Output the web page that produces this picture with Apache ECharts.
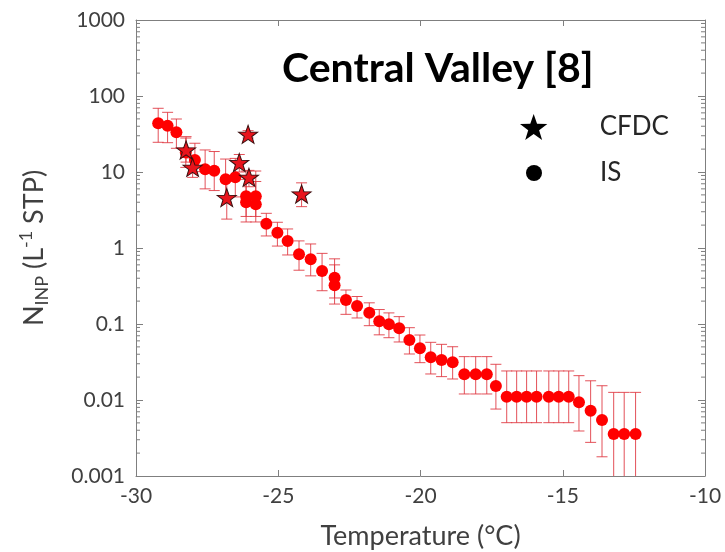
<!DOCTYPE html>
<html>
<head>
<meta charset="utf-8">
<script src="https://cdn.jsdelivr.net/npm/echarts@6/dist/echarts.min.js"></script>
<style>
  html, body { margin: 0; padding: 0; background: #fff; }
  #chart { width: 725px; height: 552px; }
</style>
</head>
<body>
<div id="chart"></div>
<script>
// Ice-nucleating particle concentrations vs. temperature, Central Valley
const isTemp = [-29.22, -28.89, -28.58, -28.25, -27.93, -27.57, -27.25, -26.85, -26.51,
  -26.13, -26.13, -25.79, -25.79, -25.42, -25.03, -24.67, -24.27, -23.86, -23.46,
  -23.02, -23.02, -22.62, -22.23, -21.80, -21.45, -21.11, -20.75, -20.39, -20.02,
  -19.64, -19.26, -18.87, -18.46, -18.06, -17.67, -17.35, -16.97, -16.62, -16.27,
  -15.92, -15.49, -15.14, -14.79, -14.43, -14.02, -13.62, -13.21, -12.84, -12.44];
const isVal = [43.7, 40.7, 33.3, 18.0, 14.4, 10.9, 10.4, 8.0, 8.5,
  4.8, 4.0, 4.8, 3.76, 2.09, 1.59, 1.24, 0.826, 0.71, 0.498,
  0.406, 0.323, 0.207, 0.172, 0.141, 0.109, 0.099, 0.088, 0.0615, 0.0479,
  0.0365, 0.0336, 0.0313, 0.0218, 0.0218, 0.0218, 0.0153, 0.011, 0.011, 0.011,
  0.011, 0.011, 0.011, 0.011, 0.00933, 0.00723, 0.00546, 0.00357, 0.00357, 0.00357];
const isLow = [24.6, 24.3, 20.5, 11.5, 10.1, 6.0, 5.7, 4.7, 4.7,
  2.6, 2.2, 2.6, 2.2, 1.44, 1.06, 0.81, 0.51, 0.43, 0.274,
  0.22, 0.183, 0.134, 0.12, 0.095, 0.072, 0.066, 0.058, 0.0403, 0.031,
  0.022, 0.0203, 0.0189, 0.012, 0.012, 0.012, 0.0076, 0.00503, 0.00503, 0.00503,
  0.00503, 0.00503, 0.00503, 0.00503, 0.00391, 0.00277, 0.00179, 0.0005, 0.0005, 0.0005];
const isHigh = [68.9, 61.0, 49.8, 28.0, 23.9, 19.5, 18.6, 14.8, 15.1,
  10.3, 8.0, 10.3, 7.5, 2.86, 2.18, 1.78, 1.24, 1.13, 0.85,
  0.72, 0.6, 0.28, 0.23, 0.19, 0.155, 0.14, 0.125, 0.0894, 0.0716,
  0.0574, 0.054, 0.0502, 0.0372, 0.0372, 0.0372, 0.0295, 0.0241, 0.0241, 0.0241,
  0.0241, 0.0241, 0.0241, 0.0241, 0.0209, 0.0179, 0.0154, 0.0126, 0.0126, 0.0126];

const cfdcTemp = [-28.24, -28.01, -26.81, -26.37, -26.06, -26.03, -24.18];
const cfdcVal = [19.5, 11.5, 4.6, 13.3, 31.3, 8.5, 5.14];
const cfdcLow = [13.5, 8.5, 2.4, 10.0, 28.0, 6.4, 3.5];
const cfdcHigh = [29.2, 15.3, 8.3, 17.0, 35.0, 10.5, 7.2];

const xTickLabels = ['-30', '-25', '-20', '-15', '-10'];
const yTickLabels = ['0.001', '0.01', '0.1', '1', '10', '100', '1000'];

const FONT = 'Lato';
const STAR = 'path://M0,-10L2.35,-3.24L9.51,-3.09L3.8,1.24L5.88,8.09L0,4.0L-5.88,8.09L-3.8,1.24L-9.51,-3.09L-2.35,-3.24Z';
const AXIS_COLOR = '#7f7f7f';
const TEXT_COLOR = '#404040';
const ERR_COLOR = 'rgba(222,50,60,0.85)';

// log-axis minor tick positions (2..9 x 10^k)
const minorTicks = [];
for (let k = -3; k <= 2; k++) {
  for (let m = 2; m <= 9; m++) minorTicks.push([Number((m * Math.pow(10, k)).toPrecision(3))]);
}

function pairs(xs, ys) { return xs.map((x, i) => [x, ys[i]]); }
function bars(xs, lo, hi) { return xs.map((x, i) => [x, lo[i], hi[i]]); }

function renderErr(params, api) {
  const x = api.value(0);
  const a = api.coord([x, api.value(1)]);
  const b = api.coord([x, api.value(2)]);
  const w = 5.5;
  const style = { stroke: ERR_COLOR, lineWidth: 1 };
  return {
    type: 'group',
    children: [
      { type: 'line', shape: { x1: a[0], y1: a[1], x2: b[0], y2: b[1] }, style },
      { type: 'line', shape: { x1: a[0] - w, y1: a[1], x2: a[0] + w, y2: a[1] }, style },
      { type: 'line', shape: { x1: b[0] - w, y1: b[1], x2: b[0] + w, y2: b[1] }, style }
    ]
  };
}

function renderMinor(params, api) {
  const v = api.value(0);
  const l = api.coord([-30, v]);
  const r = api.coord([-10, v]);
  const style = { stroke: AXIS_COLOR, lineWidth: 1 };
  return {
    type: 'group',
    children: [
      { type: 'line', shape: { x1: l[0], y1: l[1], x2: l[0] + 4, y2: l[1] }, style },
      { type: 'line', shape: { x1: r[0], y1: r[1], x2: r[0] - 4, y2: r[1] }, style }
    ]
  };
}

const xBase = {
  type: 'value', min: -30, max: -10, interval: 5,
  axisLine: { show: true, lineStyle: { color: AXIS_COLOR, width: 1 } },
  axisTick: { show: true, inside: true, length: 6, lineStyle: { color: AXIS_COLOR } },
  splitLine: { show: false }
};
const yBase = {
  type: 'log', logBase: 10, min: 0.001, max: 1000,
  axisLine: { show: true, lineStyle: { color: AXIS_COLOR, width: 1 } },
  axisTick: { show: true, inside: true, length: 7, lineStyle: { color: AXIS_COLOR } },
  splitLine: { show: false }
};

const chart = echarts.init(document.getElementById('chart'), null, { renderer: 'canvas' });
chart.setOption({
  animation: false,
  backgroundColor: '#fff',
  textStyle: { fontFamily: FONT },
  title: {
    text: 'Central Valley [8]',
    left: 277, top: 43,
    textStyle: { fontFamily: FONT, fontSize: 41, fontWeight: 'bold', color: '#000' }
  },
  grid: { left: 136, right: 20, top: 20, bottom: 76, containLabel: false, outerBoundsMode: 'none' },
  xAxis: [
    Object.assign({}, xBase, {
      position: 'bottom',
      axisLabel: {
        fontFamily: FONT, fontSize: 21, color: TEXT_COLOR, margin: 10,
        formatter: (v) => xTickLabels[Math.round((v + 30) / 5)]
      },
      name: 'Temperature (°C)', nameLocation: 'middle', nameGap: 47,
      nameTextStyle: { fontFamily: FONT, fontSize: 27, color: TEXT_COLOR }
    }),
    Object.assign({}, xBase, { position: 'top', axisLabel: { show: false } })
  ],
  yAxis: [
    Object.assign({}, yBase, {
      position: 'left',
      axisLabel: {
        fontFamily: FONT, fontSize: 21, color: TEXT_COLOR, margin: 11,
        formatter: (v) => yTickLabels[Math.round(Math.log10(v)) + 3]
      },
      name: '{m|N}{s|INP}{m| (L}{p|-1}{m| STP)}',
      nameLocation: 'middle', nameGap: 88, nameRotate: 90,
      nameTextStyle: {
        fontFamily: FONT, color: TEXT_COLOR,
        rich: {
          m: { fontFamily: FONT, fontSize: 27, color: TEXT_COLOR, lineHeight: 27 },
          s: { fontFamily: FONT, fontSize: 18, color: TEXT_COLOR, lineHeight: 18, padding: [16, 0, 0, 0] },
          p: { fontFamily: FONT, fontSize: 18, color: TEXT_COLOR, lineHeight: 18, padding: [0, 0, 16, 0] }
        }
      }
    }),
    Object.assign({}, yBase, { position: 'right', axisLabel: { show: false } })
  ],
  legend: [
    {
      data: [{ name: 'CFDC', icon: STAR, itemStyle: { color: '#000', borderWidth: 0 } }],
      left: 515, top: 109, itemWidth: 28, itemHeight: 26, selectedMode: false,
      formatter: (n) => '{g|}' + n,
      textStyle: { fontFamily: FONT, fontSize: 26, color: '#262626', rich: { g: { width: 47 } } }
    },
    {
      data: [{ name: 'IS', icon: 'circle', itemStyle: { color: '#000', borderWidth: 0 } }],
      left: 521, top: 155, itemWidth: 16, itemHeight: 16, selectedMode: false,
      formatter: (n) => '{g|}' + n,
      textStyle: { fontFamily: FONT, fontSize: 26, color: '#262626', rich: { g: { width: 53 } } }
    }
  ],
  series: [
    {
      name: 'minorTicks', type: 'custom', renderItem: renderMinor,
      data: minorTicks, encode: { y: 0 }, silent: true, z: 1
    },
    {
      name: 'IS error', type: 'custom', renderItem: renderErr, clip: true,
      data: bars(isTemp, isLow, isHigh), encode: { x: 0, y: [1, 2] }, silent: true, z: 2
    },
    {
      name: 'CFDC error', type: 'custom', renderItem: renderErr, clip: true,
      data: bars(cfdcTemp, cfdcLow, cfdcHigh), encode: { x: 0, y: [1, 2] }, silent: true, z: 2
    },
    {
      name: 'IS', type: 'scatter', symbol: 'circle', symbolSize: 12,
      itemStyle: { color: '#ff0000', opacity: 1 },
      data: pairs(isTemp, isVal), z: 3
    },
    {
      name: 'CFDC', type: 'scatter', symbol: STAR, symbolSize: [19, 18],
      itemStyle: { color: '#e8141c', borderColor: '#3a1010', borderWidth: 1, opacity: 1 },
      data: pairs(cfdcTemp, cfdcVal), z: 4
    }
  ]
});
</script>
</body>
</html>
